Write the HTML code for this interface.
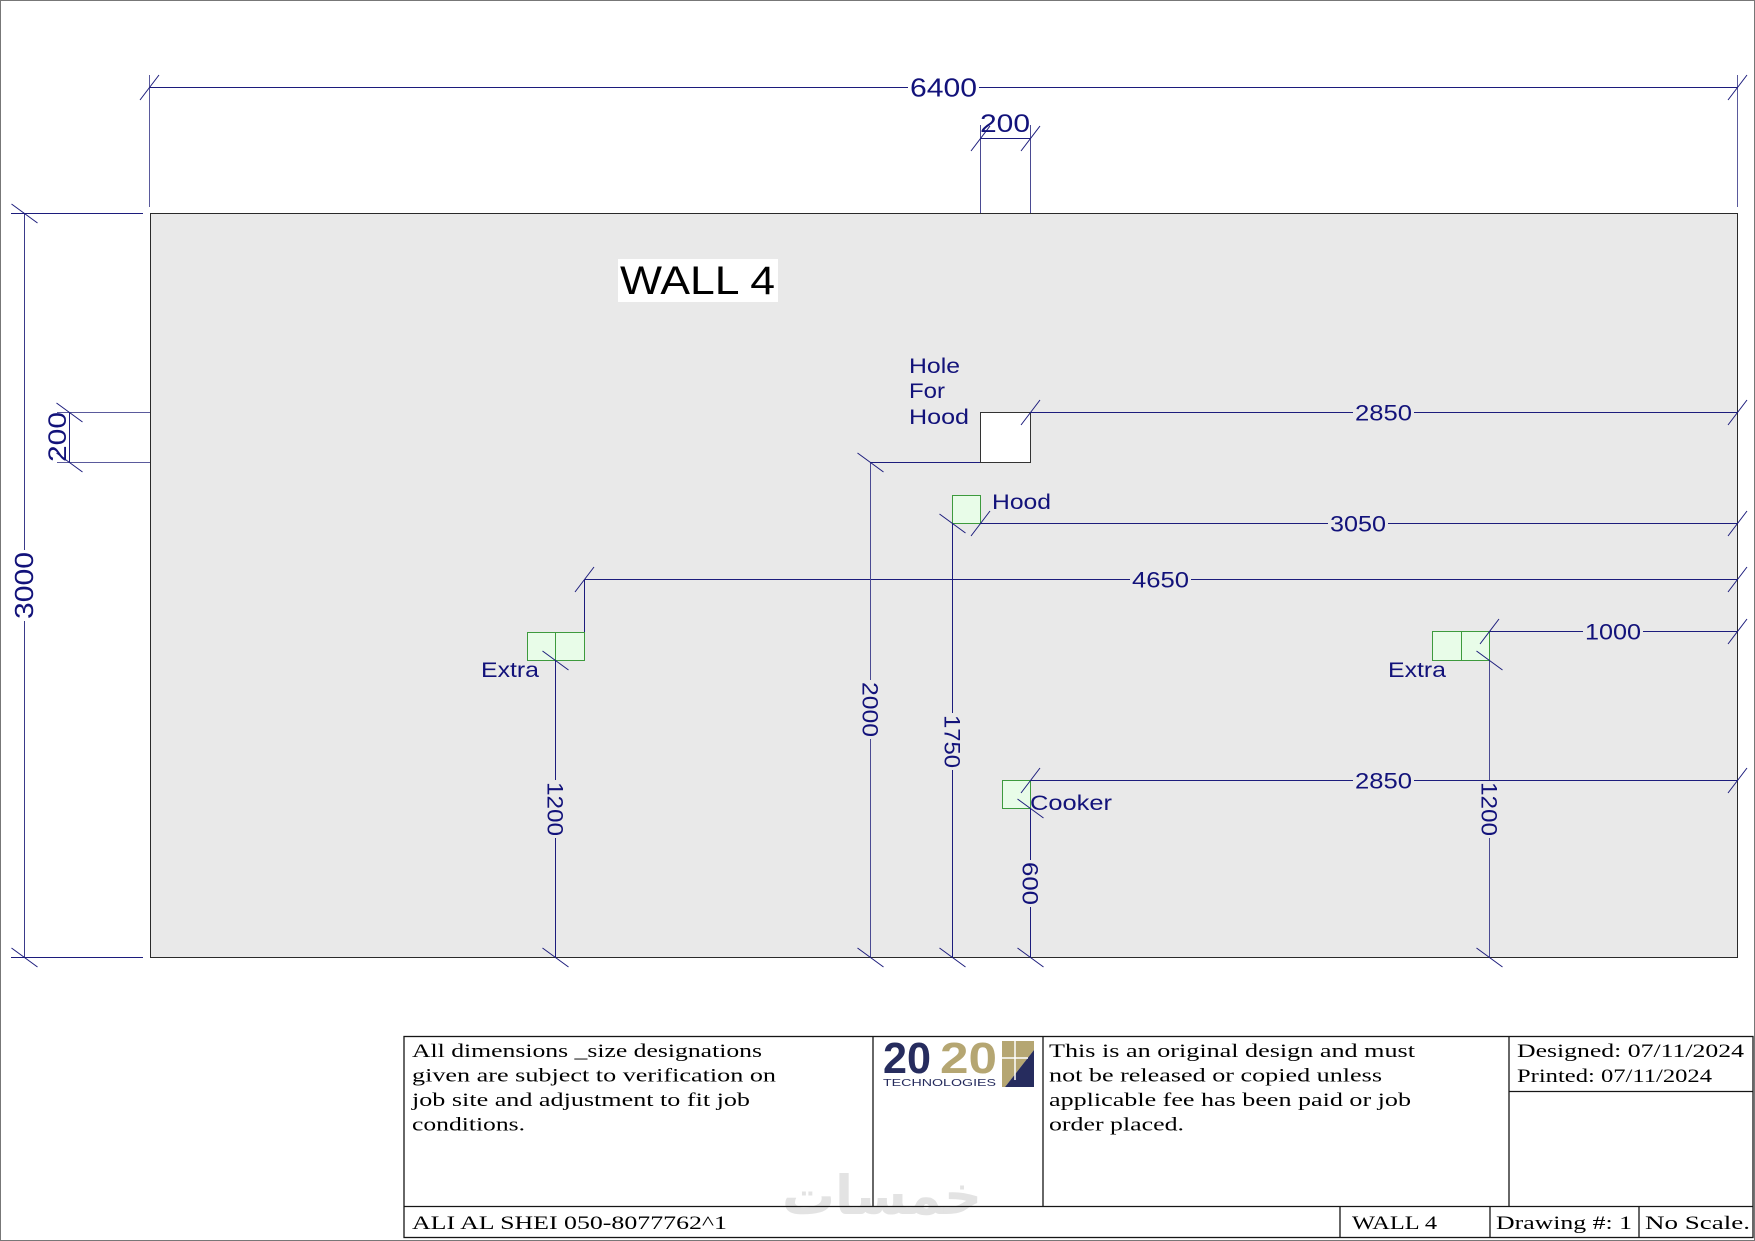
<!DOCTYPE html>
<html><head><meta charset="utf-8"><style>
html,body{margin:0;padding:0;background:#fff;}
svg{display:block;}
.d{font-family:"Liberation Sans",Arial,sans-serif;fill:#12127a;}
.s{font-family:"Liberation Serif","Times New Roman",serif;fill:#000;font-size:19px;}
</style></head><body>
<svg width="1755" height="1241" viewBox="0 0 1755 1241" xmlns="http://www.w3.org/2000/svg">
<rect x="0.5" y="0.5" width="1754" height="1240" fill="#fff" stroke="#777"/>
<!-- wall -->
<rect x="150.5" y="213.5" width="1587" height="744" fill="#e9e9e9" stroke="#2a2a2a"/>
<!-- WALL 4 -->
<rect x="618" y="259" width="160" height="43" fill="#fff"/>
<text x="620" y="294" font-family="Liberation Sans, Arial, sans-serif" font-size="40" fill="#000" textLength="155" lengthAdjust="spacingAndGlyphs">WALL 4</text>

<!-- boxes -->
<rect x="980.5" y="412.5" width="50" height="50" fill="#fff" stroke="#333"/>
<g fill="#e8fce8" stroke="#3d9a3d">
<rect x="952.5" y="495.5" width="28" height="28"/>
<rect x="527.5" y="632.5" width="57" height="28"/>
<line x1="555.5" y1="632.5" x2="555.5" y2="660.5"/>
<rect x="1432.5" y="631.5" width="57" height="29"/>
<line x1="1461.5" y1="631.5" x2="1461.5" y2="660.5"/>
<rect x="1002.5" y="780.5" width="28" height="28"/>
</g>

<!-- dimension lines -->
<g stroke="#1c1c7c" stroke-width="1" fill="none">
<!-- 6400 -->
<path d="M149.5 87.5 H908 M979 87.5 H1737.5"/>
<path d="M149.5 75 V207 M1737.5 75 V207" stroke="#5a5a9c"/>
<!-- top 200 -->
<path d="M980.5 138.5 H1030.5"/>
<path d="M980.5 125 V213 M1030.5 125 V213" stroke="#4a4a92"/>
<!-- 2850 top -->
<path d="M1030.5 412.5 H1353 M1414 412.5 H1737.5"/>
<!-- 3050 -->
<path d="M980.5 523.5 H1328 M1388 523.5 H1737.5"/>
<!-- 4650 -->
<path d="M584.5 579.5 H1130 M1191 579.5 H1737.5"/>
<path d="M584.5 579.5 V632"/>
<!-- 1000 -->
<path d="M1489.5 631.5 H1583 M1643 631.5 H1737.5"/>
<!-- 2850 bottom -->
<path d="M1030.5 780.5 H1353 M1414 780.5 H1737.5"/>
<!-- 3000 -->
<path d="M24.5 213.5 V550 M24.5 621 V957.5" stroke="#3a3a8a"/>
<path d="M11 213.5 H143 M11 957.5 H143"/>
<!-- 200 left -->
<path d="M69.5 412.5 V462.5"/>
<path d="M57 412.5 H150 M57 462.5 H150" stroke="#5a5a9c"/>
<!-- 2000 -->
<path d="M870.5 462.5 V680 M870.5 739 V957.5" stroke="#4a4a92"/>
<path d="M870.5 462.5 H980"/>
<!-- 1750 -->
<path d="M952.5 523.5 V713 M952.5 770 V957.5"/>
<!-- 1200 left -->
<path d="M555.5 660.5 V780 M555.5 838 V957.5"/>
<!-- 600 -->
<path d="M1030.5 808.5 V860 M1030.5 907 V957.5"/>
<!-- 1200 right -->
<path d="M1489.5 660.5 V780 M1489.5 838 V957.5" stroke="#4a4a92"/>

<!-- horizontal ticks -->
<path d="M140 100 L159 75 M1728 100 L1747 75
M971 151 L990 126 M1021 151 L1040 126
M1021 425 L1040 400 M1728 425 L1747 400
M971 536 L990 511 M1728 536 L1747 511
M575 592 L594 567 M1728 592 L1747 567
M1480 644 L1499 619 M1728 644 L1747 619
M1021 793 L1040 768 M1728 793 L1747 768"/>
<!-- vertical ticks -->
<path d="M11.5 204 L37.5 223 M11.5 948 L37.5 967
M56.5 403 L82.5 422 M56.5 453 L82.5 472
M857.5 453 L883.5 472 M857.5 948 L883.5 967
M939.5 514 L965.5 533 M939.5 948 L965.5 967
M542.5 651 L568.5 670 M542.5 948 L568.5 967
M1017.5 799 L1043.5 818 M1017.5 948 L1043.5 967
M1476.5 651 L1502.5 670 M1476.5 948 L1502.5 967"/>
</g>

<!-- dimension labels -->
<text class="d" x="910" y="96.5" font-size="26" textLength="67" lengthAdjust="spacingAndGlyphs">6400</text>
<text class="d" x="980" y="132" font-size="25" textLength="50" lengthAdjust="spacingAndGlyphs">200</text>
<text class="d" x="1355" y="420.5" font-size="22" textLength="57" lengthAdjust="spacingAndGlyphs">2850</text>
<text class="d" x="1330" y="531.5" font-size="22" textLength="56" lengthAdjust="spacingAndGlyphs">3050</text>
<text class="d" x="1132" y="587.5" font-size="22" textLength="57" lengthAdjust="spacingAndGlyphs">4650</text>
<text class="d" x="1585" y="639.5" font-size="22" textLength="56" lengthAdjust="spacingAndGlyphs">1000</text>
<text class="d" x="1355" y="788.5" font-size="22" textLength="57" lengthAdjust="spacingAndGlyphs">2850</text>

<text class="d" transform="translate(33,585.5) rotate(-90)" text-anchor="middle" font-size="26" textLength="67" lengthAdjust="spacingAndGlyphs">3000</text>
<text class="d" transform="translate(66,437) rotate(-90)" text-anchor="middle" font-size="25" textLength="50" lengthAdjust="spacingAndGlyphs">200</text>
<text class="d" transform="translate(870.5,709.5) rotate(90)" y="8" text-anchor="middle" font-size="22" textLength="55" lengthAdjust="spacingAndGlyphs">2000</text>
<text class="d" transform="translate(952.5,741.5) rotate(90)" y="8" text-anchor="middle" font-size="22" textLength="53" lengthAdjust="spacingAndGlyphs">1750</text>
<text class="d" transform="translate(555.5,809) rotate(90)" y="8" text-anchor="middle" font-size="22" textLength="54" lengthAdjust="spacingAndGlyphs">1200</text>
<text class="d" transform="translate(1030.5,883.5) rotate(90)" y="8" text-anchor="middle" font-size="22" textLength="43" lengthAdjust="spacingAndGlyphs">600</text>
<text class="d" transform="translate(1489.5,809) rotate(90)" y="8" text-anchor="middle" font-size="22" textLength="54" lengthAdjust="spacingAndGlyphs">1200</text>

<!-- item labels -->
<text class="d" x="909" y="373" font-size="21.5" textLength="51" lengthAdjust="spacingAndGlyphs">Hole</text>
<text class="d" x="909" y="398" font-size="21.5" textLength="36" lengthAdjust="spacingAndGlyphs">For</text>
<text class="d" x="909" y="424" font-size="21.5" textLength="60" lengthAdjust="spacingAndGlyphs">Hood</text>
<text class="d" x="992" y="509" font-size="21.5" textLength="59" lengthAdjust="spacingAndGlyphs">Hood</text>
<text class="d" x="481" y="677" font-size="21.5" textLength="58" lengthAdjust="spacingAndGlyphs">Extra</text>
<text class="d" x="1388" y="677" font-size="21.5" textLength="58" lengthAdjust="spacingAndGlyphs">Extra</text>
<text class="d" x="1030" y="810" font-size="21.5" textLength="82" lengthAdjust="spacingAndGlyphs">Cooker</text>

<!-- watermark -->
<text x="782" y="1214" font-family="DejaVu Sans, sans-serif" font-size="54" font-weight="bold" fill="#e3e3e3" textLength="200" lengthAdjust="spacingAndGlyphs">خمسات</text>

<!-- title block -->
<g stroke="#161616" stroke-width="1.3" fill="none">
<rect x="404" y="1036.5" width="1349" height="201"/>
<path d="M404 1206.5 H1753"/>
<path d="M873 1036.5 V1206.5 M1043 1036.5 V1206.5 M1509 1036.5 V1206.5"/>
<path d="M1509 1091.5 H1753"/>
<path d="M1340 1206.5 V1237.5 M1490 1206.5 V1237.5 M1639 1206.5 V1237.5"/>
</g>

<text class="s" x="412" y="1057" textLength="350" lengthAdjust="spacingAndGlyphs">All dimensions _size designations</text>
<text class="s" x="412" y="1081.5" textLength="364" lengthAdjust="spacingAndGlyphs">given are subject to verification on</text>
<text class="s" x="412" y="1106" textLength="338" lengthAdjust="spacingAndGlyphs">job site and adjustment to fit job</text>
<text class="s" x="412" y="1130.5" textLength="113" lengthAdjust="spacingAndGlyphs">conditions.</text>

<text class="s" x="1049" y="1057" textLength="366" lengthAdjust="spacingAndGlyphs">This is an original design and must</text>
<text class="s" x="1049" y="1081.5" textLength="333" lengthAdjust="spacingAndGlyphs">not be released or copied unless</text>
<text class="s" x="1049" y="1106" textLength="362" lengthAdjust="spacingAndGlyphs">applicable fee has been paid or job</text>
<text class="s" x="1049" y="1130.5" textLength="135" lengthAdjust="spacingAndGlyphs">order placed.</text>

<text class="s" x="1517" y="1057" textLength="227" lengthAdjust="spacingAndGlyphs">Designed: 07/11/2024</text>
<text class="s" x="1517" y="1082" textLength="195" lengthAdjust="spacingAndGlyphs">Printed: 07/11/2024</text>

<text class="s" x="412" y="1229" textLength="315" lengthAdjust="spacingAndGlyphs">ALI AL SHEI 050-8077762^1</text>
<text class="s" x="1352" y="1229" textLength="85" lengthAdjust="spacingAndGlyphs">WALL 4</text>
<text class="s" x="1496" y="1229" textLength="136" lengthAdjust="spacingAndGlyphs">Drawing #: 1</text>
<text class="s" x="1645" y="1229" textLength="105" lengthAdjust="spacingAndGlyphs">No Scale.</text>

<!-- logo -->
<text x="883" y="1073" font-family="Liberation Sans, Arial, sans-serif" font-weight="bold" font-size="44" fill="#262c5e" textLength="48" lengthAdjust="spacingAndGlyphs">20</text>
<text x="940" y="1073" font-family="Liberation Sans, Arial, sans-serif" font-weight="bold" font-size="44" fill="#b5a672" textLength="57" lengthAdjust="spacingAndGlyphs">20</text>
<text x="883" y="1086" font-family="Liberation Sans, Arial, sans-serif" font-size="10.5" fill="#262c5e" textLength="113" lengthAdjust="spacingAndGlyphs">TECHNOLOGIES</text>
<polygon points="1002,1041 1034,1041 1034,1050 1005,1087 1002,1087" fill="#b5a672"/>
<polygon points="1034,1050 1034,1087 1005,1087" fill="#262c5e"/>
<path d="M1015 1041 V1080 M1002 1058 H1028" stroke="#fff" stroke-width="1.5"/>
</svg>
</body></html>
